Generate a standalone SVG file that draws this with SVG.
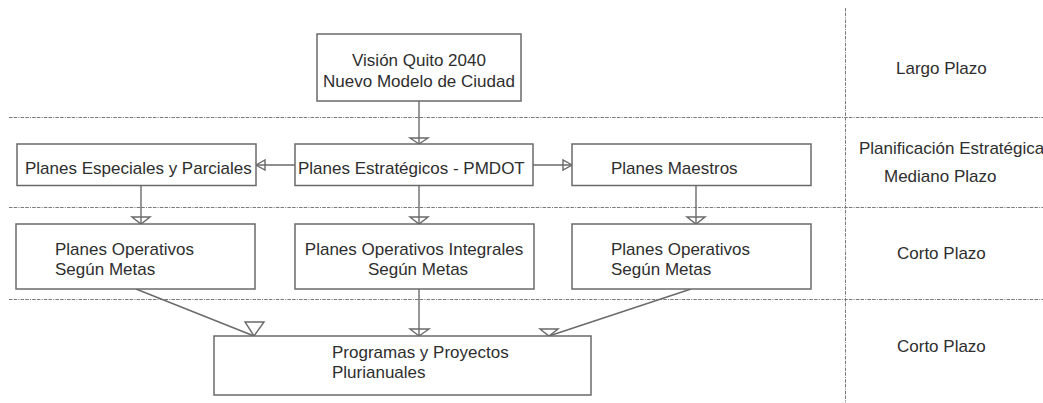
<svg xmlns="http://www.w3.org/2000/svg" width="1043" height="403" viewBox="0 0 1043 403">
<style>
  .bg{fill:#ffffff}
  .box{fill:#ffffff;stroke:#6a6a6a;stroke-width:1.5}
  .t{font-family:"Liberation Sans",Arial,sans-serif;font-size:17px;fill:#2e2e2e}
  .tm{text-anchor:middle}
  .sep{stroke:#7a7a7a;stroke-width:1;stroke-dasharray:3.5 1.2 3.5 1.2 1 1.2;fill:none}
  .ln{stroke:#6a6a6a;stroke-width:1.4;fill:none}
  .ah{stroke:#6a6a6a;stroke-width:1.4;fill:none;stroke-linejoin:miter}
</style>
<rect class="bg" x="0" y="0" width="1043" height="403"/>
<g id="separators">
  <line class="sep" x1="9" y1="117.5" x2="1043" y2="117.5"/>
  <line class="sep" x1="9" y1="207.5" x2="1043" y2="207.5"/>
  <line class="sep" x1="9" y1="299.5" x2="1043" y2="299.5"/>
  <line class="sep" x1="845.5" y1="8" x2="845.5" y2="403"/>
</g>
<g id="connectors">
  <line class="ln" x1="419" y1="101" x2="419" y2="144"/>
  <polygon class="ah" points="410,138 428,138 419,144"/>
  <line class="ln" x1="295" y1="165" x2="256" y2="165"/>
  <polygon class="ah" points="256,165 265,160 265,170"/>
  <line class="ln" x1="533" y1="165" x2="572" y2="165"/>
  <polygon class="ah" points="572,165 563,160 563,170"/>
  <line class="ln" x1="141" y1="185.5" x2="141" y2="224"/>
  <polygon class="ah" points="132,217 150,217 141,224"/>
  <line class="ln" x1="419" y1="185.5" x2="419" y2="224"/>
  <polygon class="ah" points="410,217 428,217 419,224"/>
  <line class="ln" x1="696" y1="185.5" x2="696" y2="224"/>
  <polygon class="ah" points="687,217 705,217 696,224"/>
  <line class="ln" x1="136" y1="289" x2="254" y2="336"/>
  <polygon class="ah" points="245,322 264,322 254,336"/>
  <line class="ln" x1="419" y1="289" x2="419" y2="336"/>
  <polygon class="ah" points="410,329 429,329 419,336"/>
  <line class="ln" x1="691" y1="289" x2="549" y2="336"/>
  <polygon class="ah" points="540,329 558,329 549,336"/>
</g>
<g id="vision">
  <rect class="box" x="317" y="34" width="204" height="67"/>
  <text class="t tm" x="419" y="66">Visión Quito 2040</text>
  <text class="t tm" x="419" y="87">Nuevo Modelo de Ciudad</text>
</g>
<g id="especiales">
  <rect class="box" x="17" y="144" width="239" height="41.5"/>
  <text class="t" x="25" y="173.5">Planes Especiales y Parciales</text>
</g>
<g id="estrategicos">
  <rect class="box" x="295" y="144" width="238" height="41.5"/>
  <text class="t" x="298" y="173.5">Planes Estratégicos - PMDOT</text>
</g>
<g id="maestros">
  <rect class="box" x="572" y="144" width="239" height="41.5"/>
  <text class="t" x="611" y="173.5">Planes Maestros</text>
</g>
<g id="operativos-izq">
  <rect class="box" x="16" y="224" width="239" height="65"/>
  <text class="t" x="55" y="254.5">Planes Operativos</text>
  <text class="t" x="55" y="274.5">Según Metas</text>
</g>
<g id="operativos-integrales">
  <rect class="box" x="295" y="224" width="239" height="65"/>
  <text class="t tm" x="414" y="254.5">Planes Operativos Integrales</text>
  <text class="t tm" x="418" y="274.5">Según Metas</text>
</g>
<g id="operativos-der">
  <rect class="box" x="572" y="224" width="239" height="65"/>
  <text class="t" x="611" y="254.5">Planes Operativos</text>
  <text class="t" x="611" y="274.5">Según Metas</text>
</g>
<g id="programas">
  <rect class="box" x="214" y="336" width="377" height="59"/>
  <text class="t" x="332" y="358">Programas y Proyectos</text>
  <text class="t" x="332" y="378">Plurianuales</text>
</g>
<g id="horizontes">
  <text class="t" x="896" y="74">Largo Plazo</text>
  <text class="t" x="859" y="154">Planificación Estratégica</text>
  <text class="t" x="884" y="182">Mediano Plazo</text>
  <text class="t" x="897" y="259">Corto Plazo</text>
  <text class="t" x="897" y="352">Corto Plazo</text>
</g>
</svg>
